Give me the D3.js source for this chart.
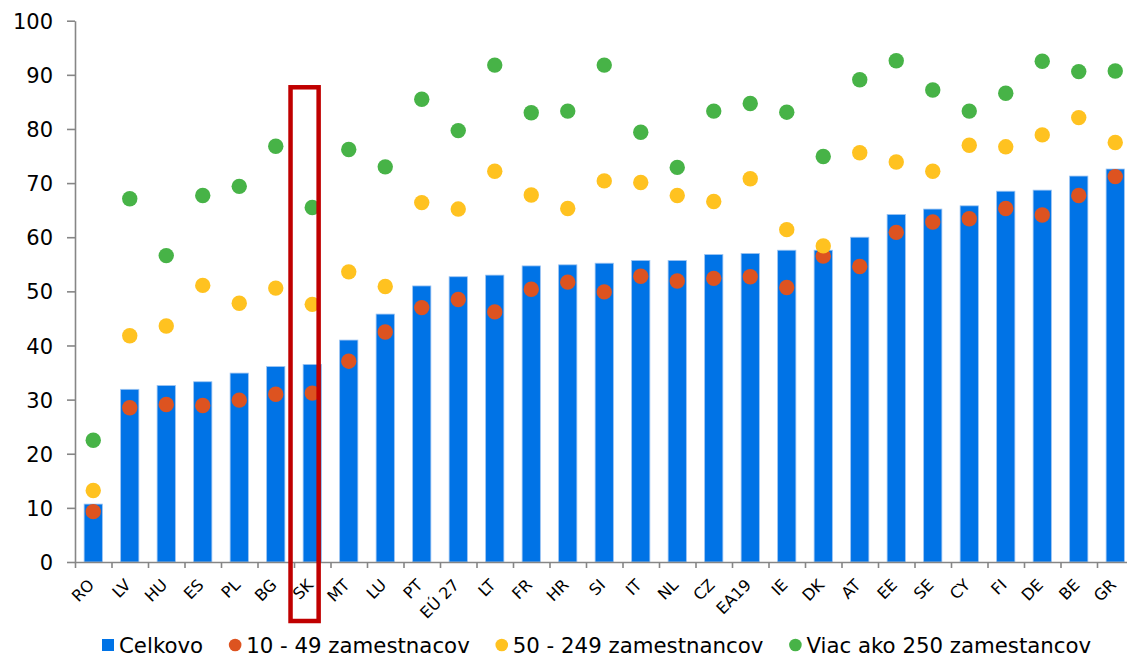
<!DOCTYPE html>
<html>
<head>
<meta charset="utf-8">
<script src="https://cdn.jsdelivr.net/npm/d3@7"></script>
<style>
    body { margin: 0; background: #ffffff; }
    svg text { font-family: "DejaVu Sans", Verdana, sans-serif; fill: #000000; }
</style>
</head>
<body>
<svg id="chart_svg"></svg>
<script>
/**
 * Chart data
 */
var countries = ["RO", "LV", "HU", "ES", "PL", "BG", "SK", "MT", "LU", "PT", "EÚ 27", "LT", "FR", "HR",
    "SI", "IT", "NL", "CZ", "EA19", "IE", "DK", "AT", "EE", "SE", "CY", "FI", "DE", "BE", "GR"];
var celkovo = [10.7, 31.9, 32.6, 33.3, 34.9, 36.1, 36.5, 41.0, 45.8, 51.0, 52.7, 53.0, 54.7, 54.9,
    55.2, 55.7, 55.7, 56.8, 57.0, 57.6, 57.6, 60.0, 64.2, 65.2, 65.8, 68.5, 68.7, 71.3, 72.6];
var small = [9.3, 28.5, 29.1, 28.9, 29.9, 31.0, 31.2, 37.1, 42.5, 47.0, 48.5, 46.2, 50.4, 51.7,
    49.9, 52.8, 51.9, 52.4, 52.7, 50.7, 56.5, 54.6, 60.9, 62.8, 63.4, 65.3, 64.1, 67.7, 71.2];
var medium = [13.2, 41.8, 43.6, 51.1, 47.8, 50.6, 47.6, 53.6, 50.9, 66.4, 65.2, 72.2, 67.8, 65.3,
    70.4, 70.1, 67.7, 66.6, 70.8, 61.4, 58.4, 75.6, 73.9, 72.2, 77.0, 76.7, 78.9, 82.1, 77.5];
var large = [22.5, 67.1, 56.6, 67.7, 69.4, 76.8, 65.5, 76.2, 73.0, 85.5, 79.7, 91.8, 83.0, 83.3,
    91.8, 79.4, 72.9, 83.3, 84.7, 83.1, 74.9, 89.1, 92.6, 87.2, 83.3, 86.6, 92.5, 90.6, 90.7];
var yTicks = [0, 10, 20, 30, 40, 50, 60, 70, 80, 90, 100];
var legendLabels = ["Celkovo", "10 - 49 zamestnacov", "50 - 249 zamestnancov", "Viac ako 250 zamestancov"];
var highlighted = "SK";

var colors = {
    bar: "#0073e6",
    small: "#dd5320",
    medium: "#ffc220",
    large: "#47b347",
    axis: "#868686",
    highlight: "#c00000"
};

window.onload = function(){
    drawChart();
};

function drawChart() {
    var width = 1127,
        height = 658,
        margin = {left: 75, top: 20.7, bottom: 96},
        step = 36.5,
        dotR = 7.7;

    var svg = d3.select("#chart_svg")
        .attr("width", width)
        .attr("height", height);

    var x = d3.scaleBand()
        .domain(countries)
        .range([margin.left, margin.left + countries.length * step])
        .paddingInner(0.5)
        .paddingOuter(0.25);

    // linear twin of the band scale, used for the category boundary ticks
    var xEdge = d3.scaleLinear()
        .domain([0, countries.length])
        .range(x.range());

    var y = d3.scaleLinear()
        .domain([0, 100])
        .range([height - margin.bottom, margin.top]);

    var cx = function(i){ return x(countries[i]) + x.bandwidth() / 2; };

    // bars
    svg.append("g")
        .selectAll("rect")
        .data(celkovo)
        .enter()
        .append("rect")
        .attr("x", function(d, i){ return x(countries[i]); })
        .attr("y", function(d){ return y(d); })
        .attr("width", x.bandwidth())
        .attr("height", function(d){ return y(0) - y(d); })
        .style("fill", colors.bar)
        .style("stroke", "#9cc4f2")
        .style("stroke-width", "0.8px");

    // dots
    var series = [
        {values: small, color: colors.small},
        {values: medium, color: colors.medium},
        {values: large, color: colors.large}
    ];
    series.forEach(function(s){
        svg.append("g")
            .selectAll("circle")
            .data(s.values)
            .enter()
            .append("circle")
            .attr("cx", function(d, i){ return cx(i); })
            .attr("cy", function(d){ return y(d); })
            .attr("r", dotR)
            .style("fill", s.color);
    });

    // y axis
    var yAxis = svg.append("g")
        .attr("transform", "translate(" + margin.left + ",0)")
        .call(d3.axisLeft(y).tickValues(yTicks).tickSize(8).tickSizeOuter(0).tickPadding(14));
    yAxis.selectAll("text")
        .style("font-size", "21px")
        .attr("dy", "0.36em");

    // x axis: boundary ticks
    var xAxis = svg.append("g")
        .attr("transform", "translate(0," + y(0) + ")")
        .call(d3.axisBottom(xEdge).tickValues(d3.range(countries.length + 1)).tickSize(6)
            .tickSizeOuter(0).tickFormat(""));

    // x axis labels
    svg.append("g")
        .selectAll("text")
        .data(countries)
        .enter()
        .append("text")
        .attr("transform", function(d, i){
            return "translate(" + (cx(i) - 2) + "," + (y(0) + 20) + ") rotate(-45)";
        })
        .attr("text-anchor", "end")
        .attr("dy", "0.35em")
        .style("font-size", "16px")
        .text(function(d){ return d; });

    [yAxis, xAxis].forEach(function(a){
        a.selectAll("path, line")
            .style("stroke", colors.axis)
            .style("stroke-width", "1.6px");
    });

    // highlight box round SK
    svg.append("rect")
        .attr("x", x(highlighted) - x.bandwidth() * 0.69)
        .attr("y", y(87.7))
        .attr("width", x.bandwidth() * 1.54)
        .attr("height", y(0) - y(87.7) + 59)
        .style("fill", "none")
        .style("stroke", colors.highlight)
        .style("stroke-width", "4.5px");

    // legend
    var legendY = 645,
        lx = 102;
    var legend = svg.append("g").attr("class", "legend");
    var markColors = [colors.bar, colors.small, colors.medium, colors.large];
    legendLabels.forEach(function(label, i){
        if (i === 0) {
            legend.append("rect")
                .attr("x", lx)
                .attr("y", legendY - 6)
                .attr("width", 12)
                .attr("height", 12)
                .style("fill", markColors[i]);
        } else {
            legend.append("circle")
                .attr("cx", lx + 6)
                .attr("cy", legendY)
                .attr("r", 6.3)
                .style("fill", markColors[i]);
        }
        var t = legend.append("text")
            .attr("x", lx + 17)
            .attr("y", legendY + 7.5)
            .style("font-size", "21.3px")
            .text(label);
        lx = lx + 17 + t.node().getComputedTextLength() + 26;
    });
}
</script>
</body>
</html>
